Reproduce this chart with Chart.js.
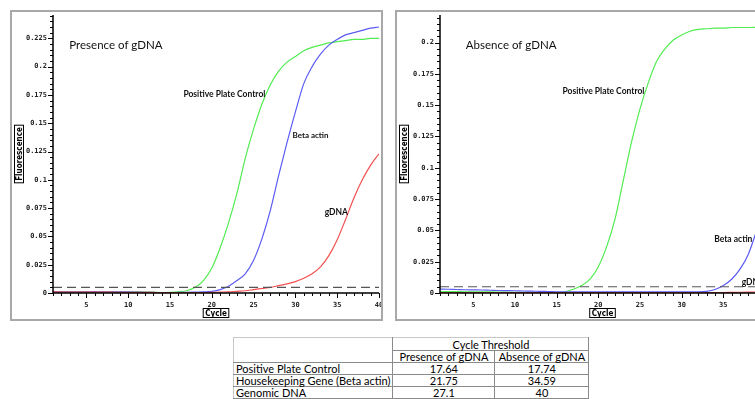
<!DOCTYPE html>
<html>
<head>
<meta charset="utf-8">
<script src="https://cdn.jsdelivr.net/npm/chart.js"></script>
<style>
  body { margin: 0; background: #fff; }
  #page { position: relative; width: 755px; height: 399px; overflow: hidden; background: #fff; }
  .panel { position: absolute; top: 10px; border: 2px solid #a8a8a8; background: #fff; }
  #left-panel { left: 10px; }
  #right-panel { left: 395px; }
  canvas { display: block; }
  table { position: absolute; left: 233px; top: 337px; border-collapse: collapse;
          font-family: Lato, "Open Sans", sans-serif; font-size: 11px; color: #000; }
  td { padding: 0 2px; line-height: 11px; height: 11px; border: 1px solid #8a8a8a; white-space: nowrap; }
  td.num { text-align: center; }
  .outer-l { border-left-color: #c8c8c8; }
  .outer-t { border-top-color: #c8c8c8; }
</style>
</head>
<body>
<div id="page">
  <div class="panel" id="left-panel"><canvas id="presenceChart" width="369" height="307"></canvas></div>
  <div class="panel" id="right-panel"><canvas id="absenceChart" width="370" height="307"></canvas></div>
  <table>
    <tr>
      <td rowspan="2" class="outer-l outer-t" style="width:151px"></td>
      <td colspan="2" class="num outer-t" style="height:12px">Cycle Threshold</td>
    </tr>
    <tr>
      <td class="num" style="width:97px">Presence of gDNA</td>
      <td class="num" style="width:89px">Absence of gDNA</td>
    </tr>
    <tr><td class="outer-l">Positive Plate Control</td><td class="num">17.64</td><td class="num">17.74</td></tr>
    <tr><td class="outer-l">Housekeeping Gene (Beta actin)</td><td class="num">21.75</td><td class="num">34.59</td></tr>
    <tr><td class="outer-l">Genomic DNA</td><td class="num">27.1</td><td class="num">40</td></tr>
  </table>
</div>

<script>
    // cycles and fluorescence
    const cycles = Array.from({length: 40}, (_, i) => i + 1)
    const threshold = 0.005

    const presencePPC = [0.001,0.001,0.001,0.001,0.001,0.001,0.001,0.001,0.001,0.001,
        0.001,0.0008,0.0006,0.0004,0.0005,0.001,0.002,0.005,0.011,0.022,
        0.040,0.062,0.088,0.119,0.145,0.167,0.184,0.196,0.204,0.209,
        0.214,0.217,0.219,0.221,0.222,0.223,0.224,0.224,0.225,0.225]
    const presenceActin = [0.0015,0.001,0.001,0.001,0.001,0.0012,0.001,0.001,0.001,0.001,
        0.0008,0.0006,0.0005,0.0004,0.0004,0.0005,0.0006,0.0008,0.001,0.0015,
        0.003,0.006,0.011,0.017,0.029,0.048,0.073,0.104,0.133,0.160,
        0.185,0.200,0.211,0.219,0.224,0.228,0.230,0.232,0.234,0.235]
    const presenceGDNA = [0.001,0.0008,0.0007,0.0007,0.0007,0.0007,0.0007,0.0007,0.0006,0.0006,
        0.0006,0.0005,0.0005,0.0004,0.0004,0.0003,0.0003,0.0003,0.0004,0.0005,
        0.0008,0.001,0.0015,0.002,0.003,0.004,0.005,0.0065,0.008,0.010,
        0.013,0.017,0.023,0.033,0.047,0.065,0.084,0.100,0.113,0.123]

    const absencePPC = [0.0012,0.0012,0.0011,0.001,0.001,0.001,0.0009,0.0008,0.0007,0.0006,
        0.0005,0.0004,0.0003,0.0003,0.0004,0.001,0.003,0.006,0.011,0.021,
        0.037,0.059,0.090,0.121,0.147,0.168,0.185,0.195,0.202,0.206,
        0.209,0.2105,0.211,0.2115,0.2115,0.212,0.212,0.212,0.2122,0.2125]
    const absenceActin = [0.0032,0.003,0.0028,0.0026,0.0025,0.0024,0.0022,0.002,0.0019,0.0018,
        0.0016,0.0015,0.0013,0.0012,0.001,0.001,0.001,0.001,0.001,0.001,
        0.001,0.001,0.001,0.001,0.001,0.001,0.001,0.001,0.001,0.001,
        0.001,0.001,0.0013,0.0028,0.006,0.011,0.019,0.031,0.050,0.072]
    const absenceGDNA = [0.0004,0.0004,0.0004,0.0003,0.0003,0.0003,0.0003,0.0003,0.0003,0.0003,
        0.0003,0.0003,0.0003,0.0003,0.0003,0.0003,0.0003,0.0003,0.0003,0.0003,
        0.0003,0.0003,0.0003,0.0003,0.0003,0.0003,0.0003,0.0003,0.0003,0.0003,
        0.0003,0.0003,0.0003,0.0004,0.0004,0.0005,0.0006,0.0007,0.0008,0.001]

    const xTickLabels = [5, 10, 15, 20, 25, 30, 35, 40]
    const presenceYTicks = [0, 0.025, 0.05, 0.075, 0.1, 0.125, 0.15, 0.175, 0.2, 0.225]
    const absenceYTicks = [0, 0.025, 0.05, 0.075, 0.1, 0.125, 0.15, 0.175, 0.2]

    const GREEN = '#52ec52'
    const BLUE = '#5c5cf5'
    const RED = '#f45050'

    // text placed in data units (cycle, fluorescence)
    const presenceNotes = [
        {text: 'Presence of gDNA', x: 2.95, y: 0.2187, font: '11.5px Lato'},
        {text: 'Positive Plate Control', x: 16.6, y: 0.176, font: 'bold 8.5px Lato'},
        {text: 'Beta actin', x: 29.65, y: 0.139, font: 'bold 8px Lato'},
        {text: 'gDNA', x: 33.5, y: 0.0715, font: 'bold 8.5px Lato'},
    ]
    const absenceNotes = [
        {text: 'Absence of gDNA', x: 4.1, y: 0.198, font: '11.5px Lato'},
        {text: 'Positive Plate Control', x: 15.7, y: 0.1614, font: 'bold 8.5px Lato'},
        {text: 'Beta actin', x: 33.9, y: 0.0427, font: 'bold 8.5px Lato'},
        {text: 'gDNA', x: 37.2, y: 0.0088, font: 'bold 8.5px Lato'},
    ]

    const toPoints = vals => cycles.map((c, i) => ({x: c, y: vals[i]}))

    const boxedText = (ctx, text, cx, cy, rotate) => {
        ctx.save()
        ctx.translate(cx, cy)
        if (rotate) ctx.rotate(-Math.PI / 2)
        ctx.font = 'bold 8px "DejaVu Sans Condensed", "DejaVu Sans"'
        const w = ctx.measureText(text).width
        ctx.fillStyle = '#000'
        ctx.textAlign = 'center'
        ctx.textBaseline = 'middle'
        ctx.fillText(text, 0, 0.5)
        ctx.strokeStyle = '#000'
        ctx.lineWidth = 1
        ctx.strokeRect(-w / 2 - 2, -4.5, w + 4, 9)
        ctx.restore()
    }

    const decor = {
        id: 'decor',
        afterDraw(chart) {
            const {ctx, chartArea: a, scales: {x, y}} = chart
            const notes = chart.options.plugins.decor.notes
            ctx.save()
            ctx.strokeStyle = '#000'
            ctx.lineWidth = 1.5
            ctx.beginPath()
            ctx.moveTo(a.left, a.top)
            ctx.lineTo(a.left, a.bottom)
            ctx.lineTo(a.right, a.bottom)
            ctx.stroke()

            ctx.lineWidth = 1
            ctx.beginPath()
            for (let k = 0; k * 0.005 <= y.max + 1e-9; k++) {
                const py = Math.round(y.getPixelForValue(k * 0.005)) + 0.5
                const len = k % 5 === 0 ? 5 : 3
                ctx.moveTo(a.left - len, py)
                ctx.lineTo(a.left, py)
            }
            for (let c = Math.ceil(x.min); c <= x.max; c++) {
                const px = Math.round(x.getPixelForValue(c)) + 0.5
                const len = c % 5 === 0 ? 5 : 3
                ctx.moveTo(px, a.bottom)
                ctx.lineTo(px, a.bottom + len)
            }
            ctx.stroke()

            boxedText(ctx, 'Fluorescence', 7, 142, true)
            boxedText(ctx, 'Cycle', (a.left + a.right) / 2, 301, false)

            ctx.fillStyle = '#111'
            ctx.textAlign = 'left'
            ctx.textBaseline = 'middle'
            notes.forEach(n => {
                ctx.font = n.font
                ctx.fillText(n.text, x.getPixelForValue(n.x), y.getPixelForValue(n.y))
            })
            ctx.restore()
        }
    }

    const noPad = s => { s.paddingTop = 0; s.paddingBottom = 0; s.paddingLeft = 0; s.paddingRight = 0 }

    const drawChart = (canvasId, series, yMax, yTicks, yWidth, notes) => {
        const ctx = document.getElementById(canvasId).getContext('2d')
        const line = (vals, color) => ({
            data: toPoints(vals),
            borderColor: color,
            borderWidth: 1.2,
            pointRadius: 0,
            cubicInterpolationMode: 'monotone',
        })
        return new Chart(ctx, {
            type: 'line',
            data: {
                datasets: [
                    {
                        data: [{x: 1, y: threshold}, {x: 40, y: threshold}],
                        borderColor: '#555',
                        borderWidth: 1.2,
                        borderDash: [9, 5],
                        pointRadius: 0,
                    },
                    line(series[2], RED),
                    line(series[1], BLUE),
                    line(series[0], GREEN),
                ]
            },
            options: {
                responsive: false,
                animation: false,
                layout: {padding: {top: 3, right: 2, left: 0, bottom: 0}},
                plugins: {legend: {display: false}, tooltip: {enabled: false}, decor: {notes}},
                scales: {
                    x: {
                        type: 'linear',
                        min: 1,
                        max: 40,
                        grid: {display: false, drawTicks: false},
                        border: {display: false},
                        afterFit: s => { s.height = 26; noPad(s) },
                        afterBuildTicks: s => { s.ticks = xTickLabels.map(v => ({value: v})) },
                        ticks: {
                            padding: 8,
                            maxRotation: 0,
                            color: '#222',
                            font: {family: 'DejaVu Sans Mono', size: 7, weight: 'bold'},
                        }
                    },
                    y: {
                        min: 0,
                        max: yMax,
                        grid: {display: false, drawTicks: false},
                        border: {display: false},
                        afterFit: s => { s.width = yWidth; noPad(s) },
                        afterBuildTicks: s => { s.ticks = yTicks.map(v => ({value: v})) },
                        ticks: {
                            padding: 6,
                            color: '#222',
                            font: {family: 'DejaVu Sans Mono', size: 7, weight: 'bold'},
                            callback: v => String(+v.toFixed(3)),
                        }
                    }
                }
            },
            plugins: [decor]
        })
    }

    drawChart('presenceChart', [presencePPC, presenceActin, presenceGDNA], 0.2456, presenceYTicks, 41, presenceNotes)
    drawChart('absenceChart', [absencePPC, absenceActin, absenceGDNA], 0.222, absenceYTicks, 43, absenceNotes)
</script>
</body>
</html>
